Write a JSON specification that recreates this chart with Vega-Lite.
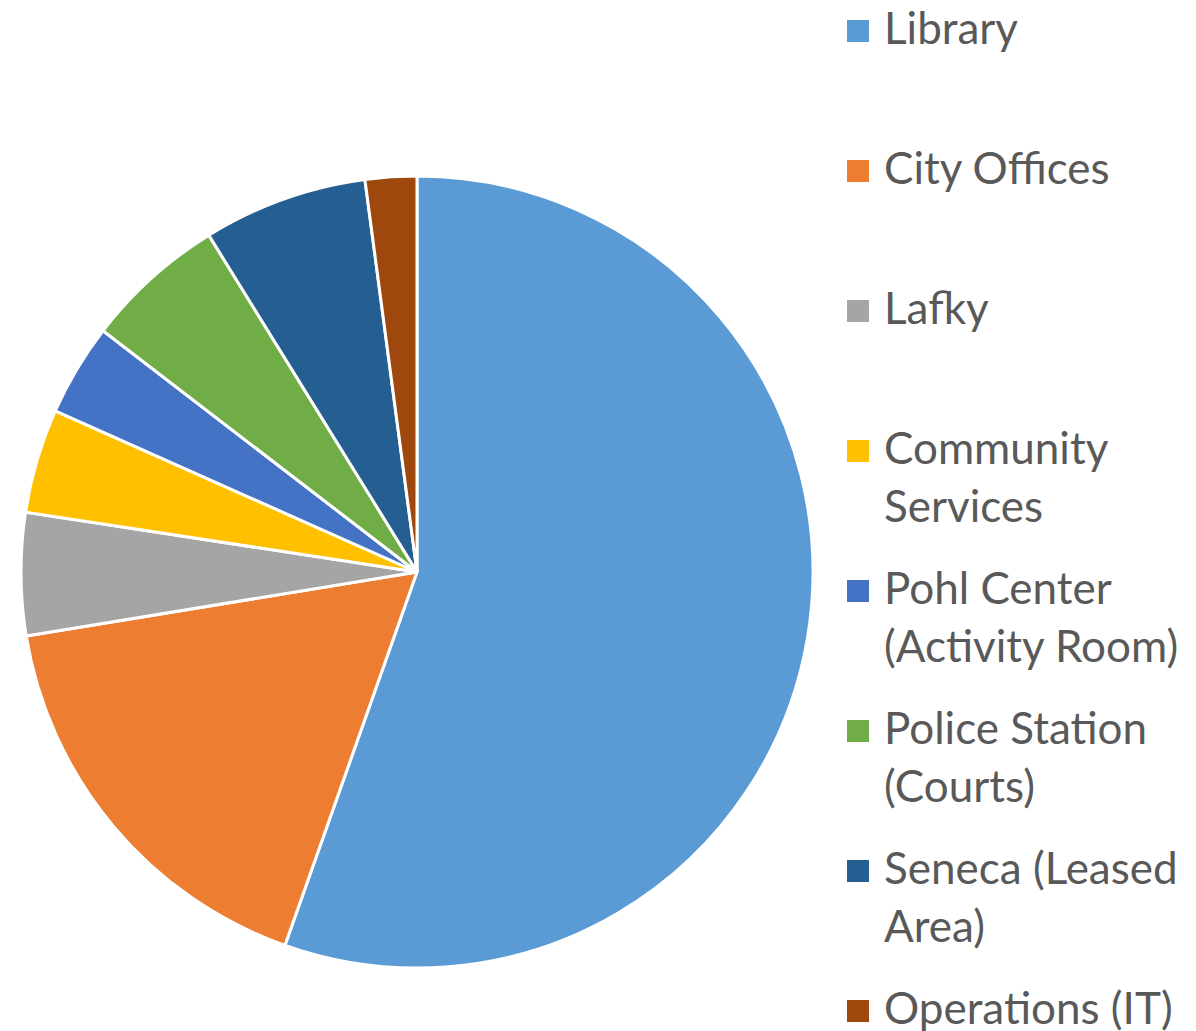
{
  "$schema": "https://vega.github.io/schema/vega-lite/v6.json",
  "width": 792,
  "height": 792,
  "autosize": {"type": "none"},
  "padding": {"left": 21, "top": 176, "right": 383, "bottom": 63},
  "background": "white",
  "data": {
    "values": [
      {"facility": "Library", "share": 55.4, "order": 1},
      {"facility": "City Offices", "share": 17.0, "order": 2},
      {"facility": "Lafky", "share": 5.0, "order": 3},
      {"facility": "Community Services", "share": 4.25, "order": 4},
      {"facility": "Pohl Center (Activity Room)", "share": 3.76, "order": 5},
      {"facility": "Police Station (Courts)", "share": 5.76, "order": 6},
      {"facility": "Seneca (Leased Area)", "share": 6.71, "order": 7},
      {"facility": "Operations (IT)", "share": 2.1, "order": 8}
    ]
  },
  "mark": {"type": "arc", "stroke": "white", "strokeWidth": 3},
  "encoding": {
    "theta": {"field": "share", "type": "quantitative", "stack": true},
    "order": {"field": "order", "type": "quantitative", "sort": "ascending"},
    "color": {
      "field": "facility",
      "type": "nominal",
      "scale": {
        "domain": ["Library", "City Offices", "Lafky", "Community Services", "Pohl Center (Activity Room)", "Police Station (Courts)", "Seneca (Leased Area)", "Operations (IT)"],
        "range": ["#5B9BD5", "#ED7D31", "#A5A5A5", "#FFC000", "#4472C4", "#70AD47", "#255E91", "#9E480E"]
      },
      "legend": {
        "title": null,
        "orient": "none",
        "legendX": 815,
        "legendY": -167,
        "padding": 0,
        "symbolType": "square",
        "symbolSize": 484,
        "symbolStrokeWidth": 0,
        "labelOffset": 4,
        "labelFont": "Lato",
        "labelFontSize": 44,
        "labelColor": "#595959",
        "labelLimit": 400,
        "rowPadding": 38,
        "labelExpr": "datum.label == 'Community Services' ? ['Community', 'Services'] : datum.label == 'Pohl Center (Activity Room)' ? ['Pohl Center', '(Activity Room)'] : datum.label == 'Police Station (Courts)' ? ['Police Station', '(Courts)'] : datum.label == 'Seneca (Leased Area)' ? ['Seneca (Leased', 'Area)'] : datum.label == 'Operations (IT)' ? datum.label : [datum.label, '']",
        "encode": {"labels": {"update": {"lineHeight": {"value": 58}}}}
      }
    }
  },
  "config": {"view": {"stroke": null}, "style": {"guide-label": {"lineHeight": 58}}}
}
